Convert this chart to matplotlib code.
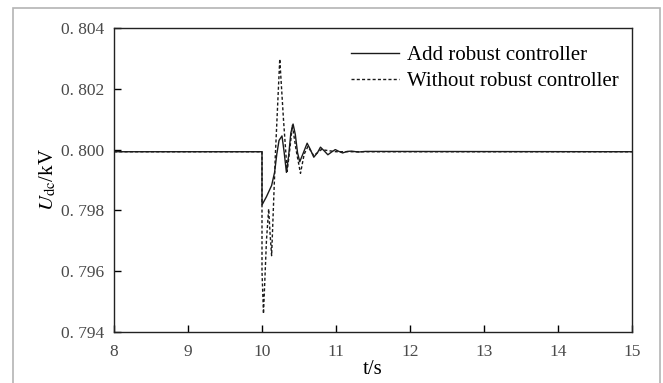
import matplotlib.pyplot as plt
from matplotlib.patches import Rectangle

# values
t_robust = [8.0, 10.0, 10.0, 10.06, 10.13, 10.17, 10.20, 10.23, 10.27, 10.30,
            10.33, 10.36, 10.39, 10.42, 10.45, 10.48, 10.51, 10.56, 10.61,
            10.65, 10.70, 10.75, 10.79, 10.84, 10.89, 10.94, 10.99, 11.04,
            11.09, 11.15, 11.21, 11.30, 11.40, 15.0]
u_robust = [0.79993, 0.79993, 0.79818, 0.79845, 0.79882, 0.79925, 0.79985,
            0.80030, 0.80045, 0.79990, 0.79925, 0.79980, 0.80055, 0.80084,
            0.80050, 0.79990, 0.79960, 0.79990, 0.80021, 0.80002, 0.79975,
            0.79990, 0.80008, 0.79996, 0.79983, 0.79992, 0.80000, 0.79994,
            0.79989, 0.79994, 0.79995, 0.79992, 0.79994, 0.79993]

t_plain = [8.0, 10.0, 10.0, 10.02, 10.06, 10.09, 10.11, 10.13, 10.18, 10.24,
           10.29, 10.34, 10.38, 10.41, 10.46, 10.52, 10.57, 10.62, 10.70,
           10.80, 11.0, 15.0]
u_plain = [0.79993, 0.79993, 0.79600, 0.79460, 0.79700, 0.79805, 0.79720,
           0.79651, 0.79980, 0.80298, 0.80100, 0.79928, 0.80010, 0.80080,
           0.80000, 0.79922, 0.79985, 0.80010, 0.79980, 0.80000, 0.79993,
           0.79993]

x_ticks = [8, 9, 10, 11, 12, 13, 14, 15]
y_ticks = [0.794, 0.796, 0.798, 0.800, 0.802, 0.804]
y_tick_labels = ['0. 794', '0. 796', '0. 798', '0. 800', '0. 802', '0. 804']

plt.rcParams['font.family'] = ['Liberation Serif', 'DejaVu Serif']
plt.rcParams['mathtext.fontset'] = 'stix'

fig = plt.figure(figsize=(6.63, 3.83), dpi=100)
ax = fig.add_axes([114 / 663, 1 - 332 / 383, 518 / 663, 304 / 383])

# light grey frame round the picture (bottom edge runs off the image)
fig.patches.append(Rectangle((13 / 663, -10 / 383), 647 / 663, 385 / 383,
                             transform=fig.transFigure, fill=False,
                             edgecolor='#b4b4b4', linewidth=1.2))

ax.plot(t_robust, u_robust, color='#1a1a1a', linewidth=1.0,
        label='Add robust controller')
ax.plot(t_plain, u_plain, color='#1a1a1a', linewidth=1.0,
        linestyle=(0, (2.2, 1.6)), label='Without robust controller')

ax.set_xlim(8, 15)
ax.set_ylim(0.794, 0.804)
ax.set_xticks(x_ticks)
ax.set_yticks(y_ticks)
ax.set_yticklabels(y_tick_labels)
ax.tick_params(direction='in', length=5, width=1, labelsize=12.5,
               labelcolor='#4a4a4a', pad=7)
ax.tick_params(axis='x', pad=9)
for s in ax.spines.values():
    s.set_linewidth(1.0)
    s.set_color('#222222')

ax.set_xlabel('t/s', fontsize=15, labelpad=0)
ax.set_ylabel(r'$U_{\rm dc}$/kV', fontsize=15, labelpad=2)

ax.legend(loc='upper right', bbox_to_anchor=(1.0 + 4 / 518, 1.0),
          frameon=False, fontsize=15, handlelength=2.3,
          handletextpad=0.35, labelspacing=0.3, borderaxespad=0.45,
          borderpad=0.4)

fig.savefig('out.png', dpi=100)
